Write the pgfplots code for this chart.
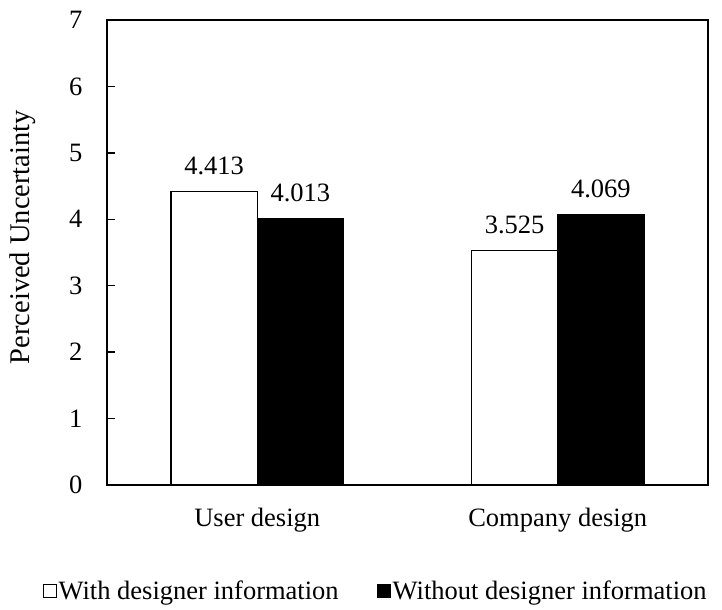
\documentclass[border=0pt]{standalone}
\usepackage{fontspec}
\setmainfont{Liberation Serif}
\usepackage{pgfplots}
\pgfplotsset{compat=1.18}
\begin{document}
\begin{tikzpicture}
\begin{axis}[
  name=ax,
  scale only axis,
  width=601pt, height=465pt,
  font=\fontsize{26.5}{30}\selectfont,
  /pgf/number format/assume math mode=true,
  ymin=0, ymax=7,
  ytick={0,1,2,3,4,5,6,7},
  xmin=-0.5, xmax=1.5,
  xtick={0,1},
  xticklabels={User design, Company design},
  xtick style={draw=none},
  ytick pos=left,
  tick align=inside,
  major tick length=8pt,
  ytick style={line width=1.5pt, black},
  axis line style={line width=2.5pt},
  yticklabel style={xshift=-21pt},
  xticklabel style={yshift=-12pt},
  ylabel={Perceived Uncertainty},
  ylabel style={at={(axis description cs:-0.141,0.533)}, anchor=center, rotate=0, font=\fontsize{28.5}{32}\selectfont},
  clip=false,
  ybar=0pt,
  bar width=0.287,
  nodes near coords={\pgfmathprintnumber[fixed,fixed zerofill,precision=3]{\pgfplotspointmeta}},
  every node near coord/.append style={yshift=13pt, black},
  legend columns=2,
  legend style={draw=none, fill=none, at={(axis description cs:0.447,-0.228)}, anchor=center,
    font=\fontsize{26.5}{30}\selectfont,
    /tikz/every even column/.append style={column sep=36pt},
    nodes={inner sep=2pt}},
  legend image code/.code={\draw[#1, line width=1pt] (0pt,-6.5pt) rectangle (13pt,6.5pt);},
]
\addplot[draw=black, fill=white, line width=1.3pt, bar shift=-0.1435] coordinates {(0,4.413) (1,3.525)};
\addplot[draw=black, fill=black, line width=1.3pt, bar shift=0.1435] coordinates {(0,4.013) (1,4.069)};
\legend{With designer information, Without designer information}
\end{axis}
\pgfresetboundingbox
\path ([shift={(-107pt,-125pt)}]ax.south west) rectangle ([shift={(14pt,20pt)}]ax.north east);
\end{tikzpicture}
\end{document}
